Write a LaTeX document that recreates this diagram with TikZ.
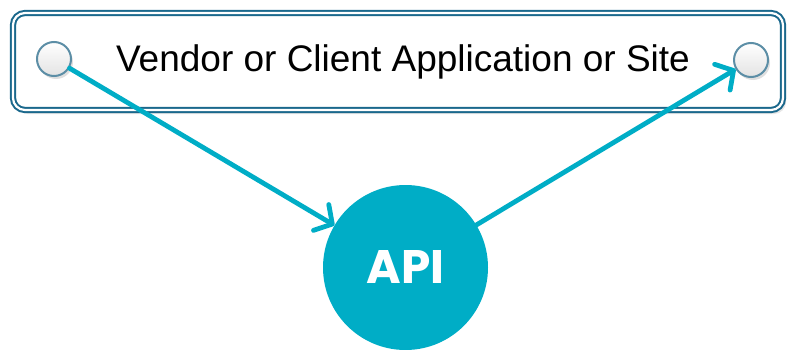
\documentclass[tikz,border=0pt]{standalone}
\usepackage{fontspec}
\setmainfont{Liberation Sans}
\newfontfamily\apifont{Poppins}
\usetikzlibrary{arrows.meta,shadows}

\definecolor{apiblue}{RGB}{0,173,198}
\definecolor{boxline}{RGB}{26,104,140}
\definecolor{portline}{RGB}{92,142,166}

\begin{document}
\begin{tikzpicture}[x=1pt,y=1pt,
		port/.style={circle,minimum size=34pt,inner sep=0pt,draw=portline,line width=2pt,
			top color=white,bottom color=gray!22,
			drop shadow={shadow xshift=2pt,shadow yshift=-3pt,opacity=0.25}},
		flow/.style={draw=apiblue,line width=4.8pt,line cap=round,line join=round,
			-{Straight Barb[length=13pt,width=30pt,line cap=round,line join=round]}}]
		\useasboundingbox (0,0) rectangle (787,349);
		% application frame
		\draw[boxline,fill=white,line width=2pt,double=white,double distance=2.2pt,rounded corners=12pt,
			drop shadow={shadow xshift=3pt,shadow yshift=-4pt,opacity=0.2}]
			(13,336) rectangle (783,239);
		\node (app) at (403,287) {\fontsize{37}{42}\selectfont Vendor or Client Application or Site};
		\node[port] (in) at (54,290) {};
		\node[port] (out) at (751,289) {};
		% the API itself
		\node[circle,fill=apiblue,minimum size=165pt,inner sep=0pt] (api) at (405.5,81.5)
			{\apifont\bfseries\fontsize{47}{52}\selectfont\color{white}API};
		\draw[flow] (in) -- (api);
		\draw[flow] (api) -- (out);
\end{tikzpicture}
\end{document}
